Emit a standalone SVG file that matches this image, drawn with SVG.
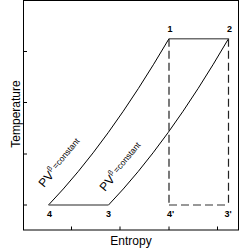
<svg xmlns="http://www.w3.org/2000/svg" width="242" height="249" viewBox="0 0 242 249">
<style>
.frame{fill:none;stroke:#000;stroke-width:1}
.tick{stroke:#000;stroke-width:1}
.curve{fill:none;stroke:#000;stroke-width:1}
.solid{stroke:#6e6e6e;stroke-width:1.6}
.dash{stroke:#222;stroke-width:1.2;stroke-dasharray:8 4}
.dashg{stroke:#777;stroke-width:1.4;stroke-dasharray:8 4}
.pt{font-family:"Liberation Sans",Arial,sans-serif;font-weight:bold;font-size:9px;text-anchor:middle;fill:#000}
.ax{font-family:"Liberation Sans",Arial,sans-serif;font-size:12px;text-anchor:middle;fill:#000}
.lbl{font-family:"Liberation Sans",Arial,sans-serif;fill:#000}
.big{font-size:12px}
.sup{font-size:7px}
.small{font-size:8.5px}
</style>
<g id="axes">
<rect class="frame" x="23.5" y="0.5" width="215" height="229.5"/>
<line class="tick" x1="23.5" y1="51.5" x2="27" y2="51.5"/>
<line class="tick" x1="23.5" y1="102.5" x2="27" y2="102.5"/>
<line class="tick" x1="23.5" y1="154" x2="27" y2="154"/>
<line class="tick" x1="23.5" y1="205" x2="27" y2="205"/>
<line class="tick" x1="71.5" y1="230" x2="71.5" y2="226.5"/>
<line class="tick" x1="120" y1="230" x2="120" y2="226.5"/>
<line class="tick" x1="169" y1="230" x2="169" y2="226.5"/>
<line class="tick" x1="217.5" y1="230" x2="217.5" y2="226.5"/>
<text class="ax" x="131" y="245">Entropy</text>
<g transform="translate(20,114) rotate(-90)"><text class="ax" x="0" y="0">Temperature</text></g>
</g>
<g id="connectors">
<path class="curve" d="M48.5,205 Q107.5,143.6 169,38.7"/>
<path class="curve" d="M108.5,205 Q167.5,143.6 228.5,38.7"/>
<line class="solid" x1="48.5" y1="205" x2="108.5" y2="205"/>
<line class="solid" x1="169" y1="38.7" x2="228.5" y2="38.7"/>
<line class="dash" x1="169" y1="38.7" x2="169" y2="205"/>
<line class="dash" x1="228.5" y1="38.7" x2="228.5" y2="205"/>
<line class="dashg" x1="169" y1="205" x2="228.5" y2="205"/>
</g>
<g id="node-1"><text class="pt" x="170" y="31.5">1</text></g>
<g id="node-2"><text class="pt" x="229.5" y="31.5">2</text></g>
<g id="node-4"><text class="pt" x="49.5" y="217">4</text></g>
<g id="node-3"><text class="pt" x="108.5" y="217">3</text></g>
<g id="node-4p"><text class="pt" x="170.5" y="217">4'</text></g>
<g id="node-3p"><text class="pt" x="228" y="217">3'</text></g>
<g id="label-a" transform="translate(44,188) rotate(-50)">
<text class="lbl big" x="0" y="0">PV</text>
<text class="lbl sup" x="16.5" y="-6">β</text>
<text class="lbl small" x="22" y="-2.5">=constant</text>
</g>
<g id="label-b" transform="translate(105,192) rotate(-50)">
<text class="lbl big" x="0" y="0">PV</text>
<text class="lbl sup" x="16.5" y="-6">β</text>
<text class="lbl small" x="22" y="-2.5">=constant</text>
</g>
</svg>
